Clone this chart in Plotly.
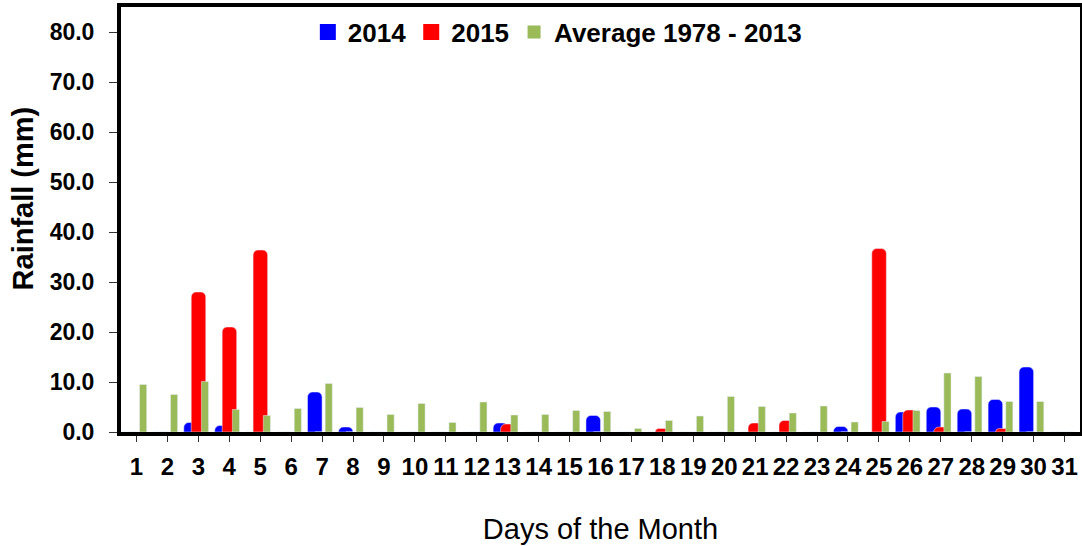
import plotly.graph_objects as go

days = list(range(1, 32))
day_labels = [str(d) for d in days]

rain_2014 = [0, 0, 1.9, 1.3, 0, 0, 8.0, 1.0, 0, 0, 0, 0, 1.8, 0, 0, 3.3, 0, 0, 0, 0,
             0, 0, 0, 1.1, 0, 4.0, 5.0, 4.6, 6.5, 13.0, 0]
rain_2015 = [0, 0, 28.0, 21.0, 36.4, 0, 0, 0, 0, 0, 0, 0, 1.6, 0, 0, 0, 0, 0.7, 0, 0,
             1.8, 2.3, 0, 0, 36.7, 4.4, 1.0, 0, 0.7, 0, 0]
rain_avg = [9.5, 7.5, 10.1, 4.5, 3.3, 4.7, 9.7, 4.9, 3.5, 5.7, 1.9, 6.0, 3.4, 3.5, 4.3,
            4.1, 0.7, 2.3, 3.2, 7.1, 5.1, 3.8, 5.2, 2.0, 2.1, 4.3, 11.8, 11.1, 6.1, 6.1, 0]

y_ticks = [0, 10, 20, 30, 40, 50, 60, 70, 80]

series_names = ["2014", "2015", "Average 1978 - 2013"]
series_colors = ["#0000FF", "#FF0000", "#9BBB59"]

FONT = "Liberation Sans, Arial, sans-serif"

fig = go.Figure()
fig.add_trace(go.Bar(x=days, y=rain_2014, name=series_names[0], showlegend=False,
                     marker=dict(color=series_colors[0], cornerradius=5),
                     width=0.47, offset=-0.47))
fig.add_trace(go.Bar(x=days, y=rain_2015, name=series_names[1], showlegend=False,
                     marker=dict(color=series_colors[1], cornerradius=5),
                     width=0.47, offset=-0.23))
fig.add_trace(go.Bar(x=days, y=rain_avg, name=series_names[2], showlegend=False,
                     marker=dict(color=series_colors[2]),
                     width=0.23, offset=0.1))

# legend entries (markers only, no data)
legend_sizes = [19, 19, 13]
for nm, col, sz in zip(series_names, series_colors, legend_sizes):
    fig.add_trace(go.Scatter(x=[None], y=[None], mode="markers", name=nm,
                             marker=dict(symbol="square", size=sz, color=col)))

fig.update_layout(
    width=1082, height=546,
    margin=dict(l=121, r=2, t=7, b=114),
    barmode="overlay",
    plot_bgcolor="white", paper_bgcolor="white",
    font=dict(family=FONT, color="black"),
    legend=dict(orientation="h", x=0.455, xanchor="center", y=0.996, yanchor="top",
                font=dict(size=26, weight="bold"), bgcolor="rgba(0,0,0,0)",
                itemwidth=30, tracegroupgap=0),
    xaxis=dict(
        tickmode="array", tickvals=days, ticktext=day_labels,
        range=[0.5, 31.5], tickson="boundaries", ticks="outside", ticklen=6,
        tickcolor="#333", tickwidth=1,
        tickfont=dict(size=24, weight="bold"),
        showline=True, linecolor="black", linewidth=4, mirror=True,
        showgrid=False, zeroline=False, ticklabelstandoff=4, automargin=False,
        title=dict(text="Days of the Month", font=dict(size=29), standoff=41),
    ),
    yaxis=dict(
        range=[0, 85], tickvals=y_ticks, tickformat=".1f",
        ticks="outside", ticklen=8, tickcolor="#333", tickwidth=1,
        tickfont=dict(size=23, weight="bold"),
        showline=True, linecolor="black", linewidth=4, mirror=True,
        showgrid=False, zeroline=False, ticklabelstandoff=10, automargin=False,
    ),
    annotations=[dict(text="Rainfall (mm)", textangle=-90, showarrow=False,
                      xref="paper", yref="paper", x=-0.102, y=0.55,
                      xanchor="center", yanchor="middle",
                      font=dict(size=29, weight="bold"))],
)

fig.write_html("out.html", config={"displayModeBar": False},
               post_script="document.body.style.margin='0px';")
